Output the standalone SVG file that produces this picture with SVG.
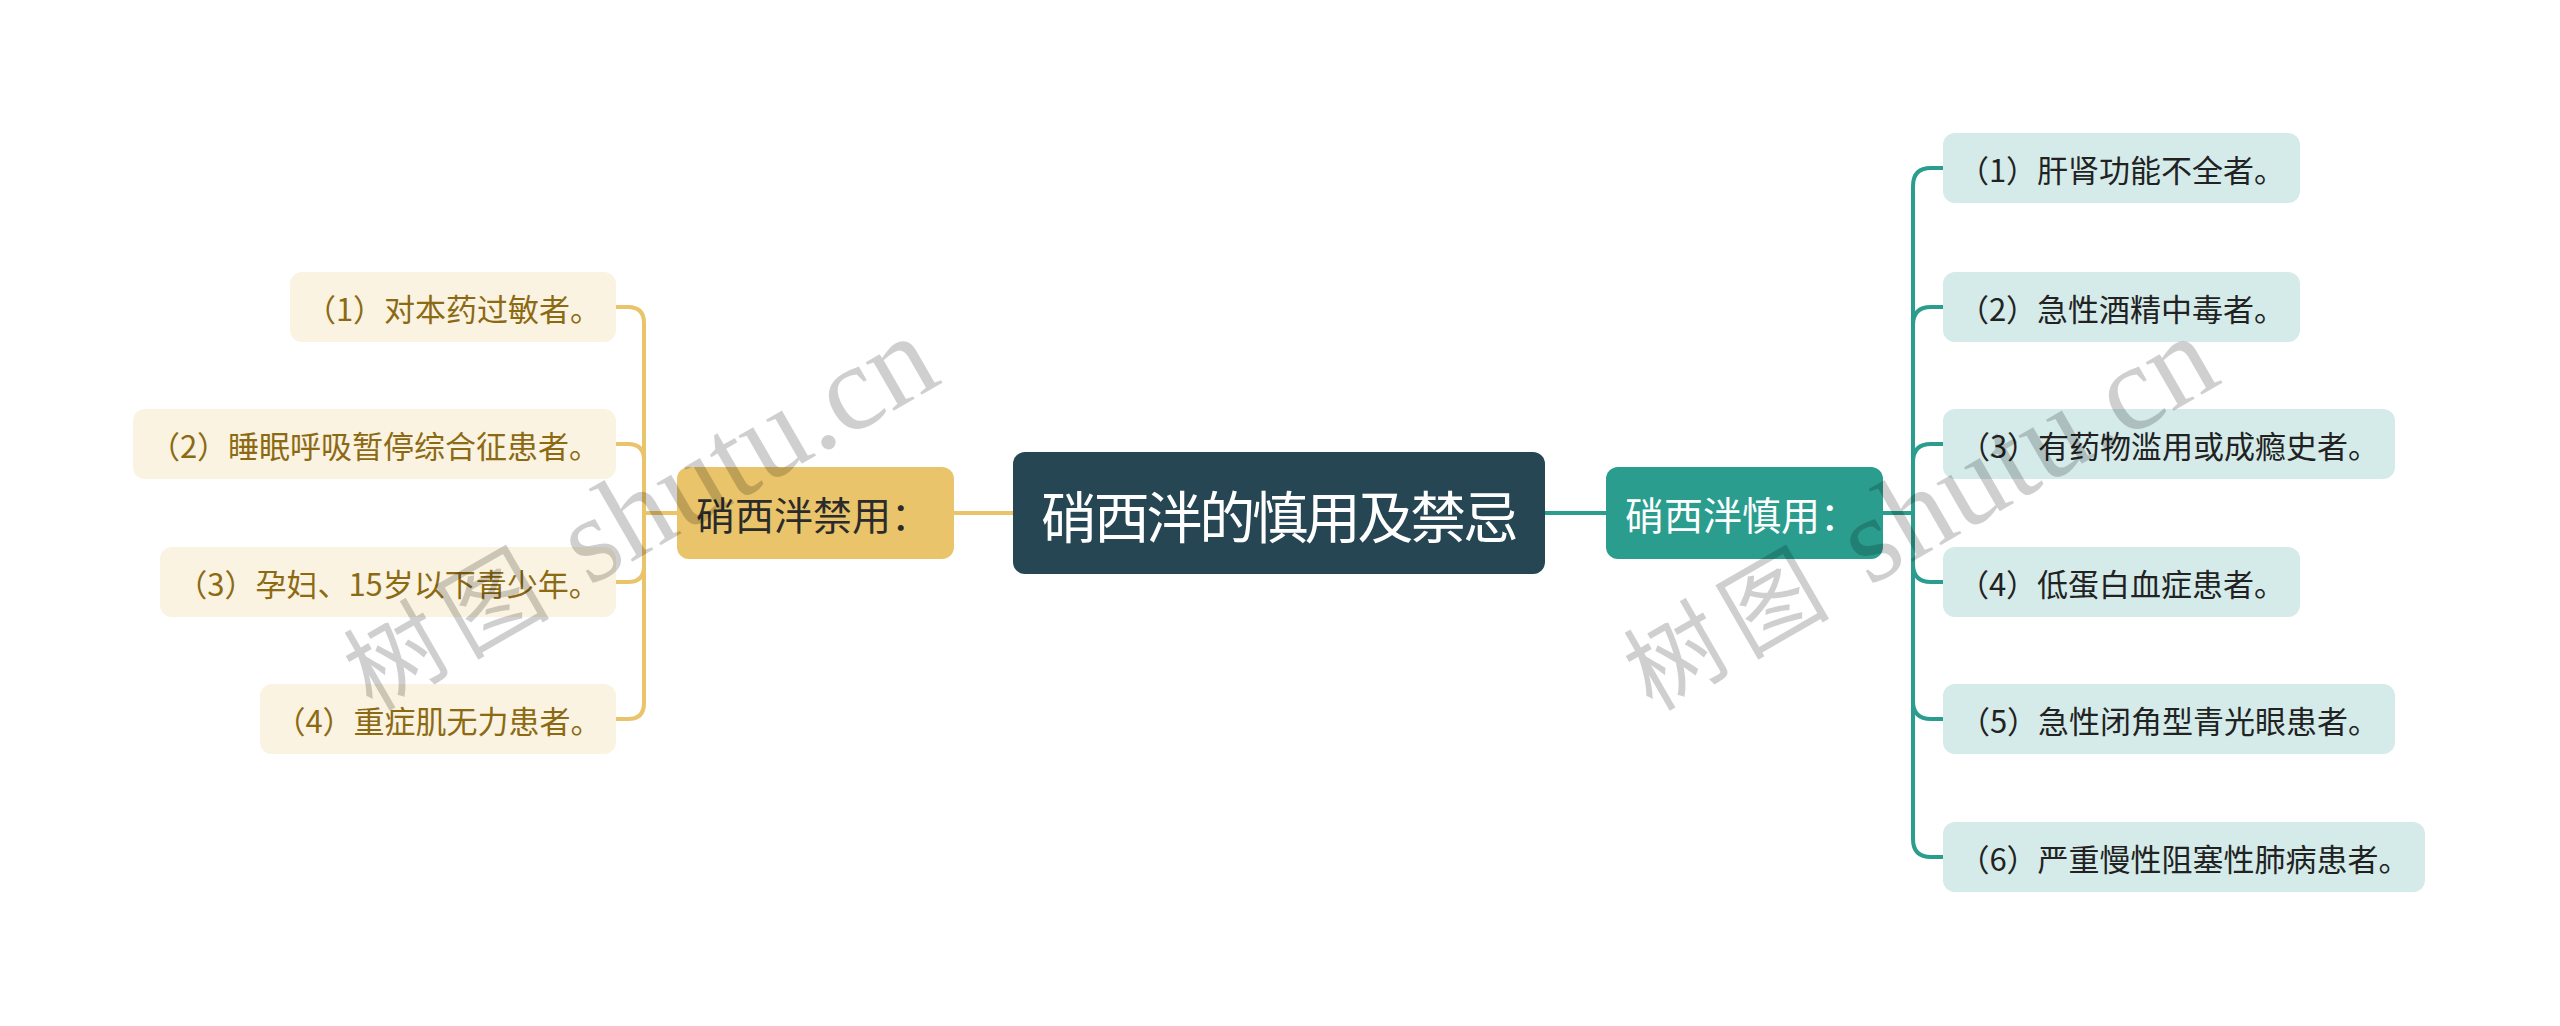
<svg xmlns="http://www.w3.org/2000/svg" width="2560" height="1026" viewBox="0 0 2560 1026">
<style>
.lleaf{fill:#FBF3E1}
.rleaf{fill:#D4EBE9}
.lt{font-family:"Noto Sans CJK SC","Microsoft YaHei",sans-serif;font-size:31px;fill:#8C6A14;text-anchor:middle;dominant-baseline:central}
.rt{font-family:"Noto Sans CJK SC","Microsoft YaHei",sans-serif;font-size:31px;fill:#222222;text-anchor:middle;dominant-baseline:central}
.bt{font-family:"Noto Sans CJK SC","Microsoft YaHei",sans-serif;font-size:39px;dominant-baseline:central}
.ct{font-family:"Noto Sans CJK SC","Microsoft YaHei",sans-serif;font-size:56px;fill:#FFFFFF;text-anchor:middle;dominant-baseline:central}
.lc{fill:none;stroke:#E9C46A;stroke-width:4}
.rc{fill:none;stroke:#2A9D8F;stroke-width:4}
.wm{font-family:"Liberation Serif","Noto Sans CJK SC",serif;fill:#000000;fill-opacity:0.19}
</style>
<rect width="2560" height="1026" fill="#FFFFFF"/>
<g id="connectors">
<path class="lc" d="M954,513 H1013"/>
<path class="rc" d="M1545,513 H1606"/>
<path class="lc" d="M677,513 H644 V323 Q644,307 628,307 H616"/>
<path class="lc" d="M677,513 H644 V460 Q644,444 628,444 H616"/>
<path class="lc" d="M677,513 H644 V566 Q644,582 628,582 H616"/>
<path class="lc" d="M677,513 H644 V703 Q644,719 628,719 H616"/>
<path class="rc" d="M1883,513 H1913 V186 Q1913,168 1931,168 H1943"/>
<path class="rc" d="M1883,513 H1913 V325 Q1913,307 1931,307 H1943"/>
<path class="rc" d="M1883,513 H1913 V462 Q1913,444 1931,444 H1943"/>
<path class="rc" d="M1883,513 H1913 V564 Q1913,582 1931,582 H1943"/>
<path class="rc" d="M1883,513 H1913 V701 Q1913,719 1931,719 H1943"/>
<path class="rc" d="M1883,513 H1913 V839 Q1913,857 1931,857 H1943"/>
</g>
<g id="root">
<rect x="1013" y="452" width="532" height="122" rx="12" fill="#264653"/>
<text class="ct" x="1280" y="513" textLength="478">硝西泮的慎用及禁忌</text>
</g>
<g id="branch-left">
<rect x="677" y="467" width="277" height="92" rx="12" fill="#E9C46A"/>
<text class="bt" x="696" y="513" fill="#2B2B2B">硝西泮禁用：</text>
</g>
<g id="branch-right">
<rect x="1606" y="467" width="277" height="92" rx="12" fill="#2A9D8F"/>
<text class="bt" x="1625" y="513" fill="#FFFFFF">硝西泮慎用：</text>
</g>
<g id="l1"><rect class="lleaf" x="290" y="272" width="326" height="70" rx="12"/><text class="lt" x="453" y="307">（1）对本药过敏者。</text></g>
<g id="l2"><rect class="lleaf" x="133" y="409" width="483" height="70" rx="12"/><text class="lt" x="374.5" y="444">（2）睡眠呼吸暂停综合征患者。</text></g>
<g id="l3"><rect class="lleaf" x="160" y="547" width="456" height="70" rx="12"/><text class="lt" x="388" y="582">（3）孕妇、15岁以下青少年。</text></g>
<g id="l4"><rect class="lleaf" x="260" y="684" width="356" height="70" rx="12"/><text class="lt" x="438" y="719">（4）重症肌无力患者。</text></g>
<g id="r1"><rect class="rleaf" x="1943" y="133" width="357" height="70" rx="12"/><text class="rt" x="2121.5" y="168">（1）肝肾功能不全者。</text></g>
<g id="r2"><rect class="rleaf" x="1943" y="272" width="357" height="70" rx="12"/><text class="rt" x="2121.5" y="307">（2）急性酒精中毒者。</text></g>
<g id="r3"><rect class="rleaf" x="1943" y="409" width="452" height="70" rx="12"/><text class="rt" x="2169" y="444">（3）有药物滥用或成瘾史者。</text></g>
<g id="r4"><rect class="rleaf" x="1943" y="547" width="357" height="70" rx="12"/><text class="rt" x="2121.5" y="582">（4）低蛋白血症患者。</text></g>
<g id="r5"><rect class="rleaf" x="1943" y="684" width="452" height="70" rx="12"/><text class="rt" x="2169" y="719">（5）急性闭角型青光眼患者。</text></g>
<g id="r6"><rect class="rleaf" x="1943" y="822" width="482" height="70" rx="12"/><text class="rt" x="2184" y="857">（6）严重慢性阻塞性肺病患者。</text></g>
<g id="watermarks">
<text class="wm" x="372" y="712" transform="rotate(-30 372 712)"><tspan font-size="98" letter-spacing="12">树图</tspan><tspan font-size="122"> shutu.cn</tspan></text>
<text class="wm" x="1652" y="712" transform="rotate(-30 1652 712)"><tspan font-size="98" letter-spacing="12">树图</tspan><tspan font-size="122"> shutu.cn</tspan></text>
</g>
</svg>
